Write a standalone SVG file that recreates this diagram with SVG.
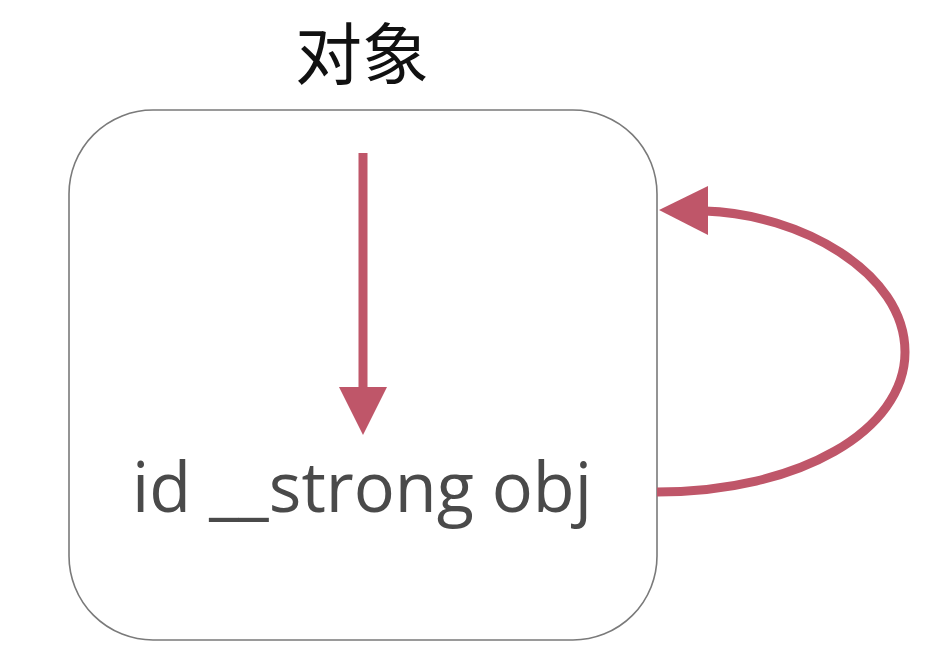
<svg xmlns="http://www.w3.org/2000/svg" width="928" height="664" viewBox="0 0 928 664">
<style>
.box{fill:#fff;stroke:#7a7a7a;stroke-width:1.6}
.title{font-family:"Noto Sans CJK SC","Noto Sans",sans-serif;font-size:67px;fill:#111}
.label{font-family:"Open Sans","Noto Sans",sans-serif;font-size:69px;fill:#4a4a4a}
.conn{fill:none;stroke:#bf5669;stroke-width:9}
.head{fill:#bf5669}
</style>
<rect width="928" height="664" fill="#fff"/>
<g id="title"><text class="title" x="362" y="79" text-anchor="middle">对象</text></g>
<g id="object">
<rect class="box" x="69" y="110" width="588" height="530" rx="84" ry="84"/>
<text class="label" x="362" y="512" text-anchor="middle" textLength="460" lengthAdjust="spacingAndGlyphs">id __strong obj</text>
</g>
<g id="connectors">
<line class="conn" x1="363" y1="153" x2="363" y2="392"/>
<polygon class="head" points="339,387 387,387 363,435"/>
<path class="conn" d="M657 492 C800 492 905 430 905 352 C905 272 800 214 705 211"/>
<polygon class="head" points="659,210 708,186 708,235"/>
</g>
</svg>
